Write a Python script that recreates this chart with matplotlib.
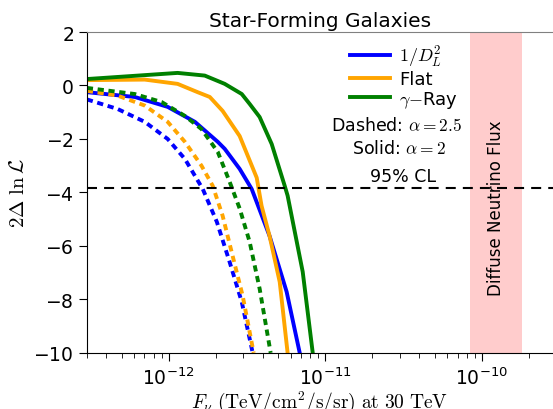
import numpy as np
import matplotlib
matplotlib.use("Agg")
import matplotlib.pyplot as plt

plt.rcParams['mathtext.fontset'] = 'cm'
plt.rcParams['axes.formatter.use_mathtext'] = True
plt.rcParams['font.family'] = ['DejaVu Sans']

# solid: alpha = 2
blue_x = [3.0e-13, 6.07e-13, 9.85e-13, 1.47e-12, 2.06e-12, 2.28e-12, 2.84e-12, 3.39e-12, 4.41e-12, 5.67e-12, 6.87e-12]
blue_y = [-0.25, -0.43, -0.8, -1.36, -2.11, -2.37, -3.12, -3.87, -5.63, -7.72, -10.0]
orange_x = [3.0e-13, 7.03e-13, 1.14e-12, 1.53e-12, 1.83e-12, 2.21e-12, 2.84e-12, 3.65e-12, 3.92e-12, 4.41e-12, 5.12e-12, 5.75e-12]
orange_y = [0.2, 0.22, 0.06, -0.25, -0.43, -0.95, -1.89, -3.45, -4.5, -5.63, -7.35, -10.0]
green_x = [3.0e-13, 1.14e-12, 1.70e-12, 2.28e-12, 2.93e-12, 3.29e-12, 3.81e-12, 4.55e-12, 5.50e-12, 5.75e-12, 7.18e-12, 8.32e-12]
green_y = [0.24, 0.47, 0.37, 0.06, -0.32, -0.69, -1.18, -2.19, -3.74, -4.12, -6.97, -10.0]

# dashed: alpha = 2.5
blue_d_x = [3.0e-13, 4.72e-13, 7.03e-13, 9.85e-13, 1.27e-12, 1.65e-12, 2.03e-12, 2.45e-12, 2.93e-12, 3.44e-12]
blue_d_y = [-0.52, -0.88, -1.36, -2.0, -2.75, -3.87, -5.1, -6.6, -8.1, -10.0]
orange_d_x = [3.0e-13, 4.72e-13, 7.03e-13, 9.85e-13, 1.27e-12, 1.62e-12, 1.91e-12, 2.21e-12, 2.56e-12, 2.97e-12, 3.49e-12]
orange_d_y = [-0.2, -0.38, -0.75, -1.36, -2.11, -3.0, -3.75, -4.87, -6.37, -7.87, -10.0]
green_d_x = [3.0e-13, 6.07e-13, 9.02e-13, 1.27e-12, 1.62e-12, 2.06e-12, 2.45e-12, 2.84e-12, 3.29e-12, 3.81e-12, 4.48e-12]
green_d_y = [-0.09, -0.32, -0.62, -1.14, -1.63, -2.49, -3.6, -4.6, -5.85, -7.6, -10.0]

cl95 = -3.84
band = [8.4e-11, 1.8e-10]

fig = plt.figure(figsize=(5.53, 4.1), dpi=100)
ax = fig.add_axes([0.157, 0.137, 0.843, 0.7825])

lw = 2.8
ax.plot(blue_x, blue_y, color='blue', lw=lw, label=r'$1/D_L^2$')
ax.plot(orange_x, orange_y, color='orange', lw=lw, label='Flat')
ax.plot(green_x, green_y, color='green', lw=lw, label=r'$\gamma$$-$Ray')
for xs, ys, c in [(blue_d_x, blue_d_y, 'blue'), (orange_d_x, orange_d_y, 'orange'), (green_d_x, green_d_y, 'green')]:
    ax.plot(xs, ys, color=c, lw=lw, ls=(0, (1.6, 1.2)))

ax.axhline(cl95, color='black', lw=1.5, ls=(0, (4.8, 3.4)))
ax.text(3.13e-11, cl95 + 0.12, '95% CL', ha='center', va='bottom', fontsize=12.5)
ax.axvspan(band[0], band[1], color='red', alpha=0.2, lw=0)
ax.text(1.23e-10, -4.55, 'Diffuse Neutrino Flux', rotation=90, ha='center', va='center', fontsize=12)

ax.set_xscale('log')
ax.set_xlim(3e-13, 2.85e-10)
ax.set_ylim(-10, 2)
ax.set_yticks([-10, -8, -6, -4, -2, 0, 2])
ax.tick_params(which='major', length=6, labelsize=13.5)
ax.tick_params(which='minor', length=3.5)
ax.spines['right'].set_visible(False)
ax.spines['top'].set_color('gray')

ax.set_xlabel(r'$F_\nu\ \mathrm{(TeV/cm^2/s/sr)\ at\ 30\ TeV}$', fontsize=14, labelpad=1)
ax.set_ylabel(r'$2\Delta\ \ln\mathcal{L}$', fontsize=15)
ax.set_title('Star-Forming Galaxies', fontsize=14.5, pad=4)

leg = ax.legend(loc='upper left', bbox_to_anchor=(0.53, 1.015), frameon=False,
                fontsize=13, handlelength=2.2, handletextpad=0.5, labelspacing=0.05)
ax.text(0.665, 0.71, r'Dashed: $\alpha=2.5$', transform=ax.transAxes, ha='center', va='center', fontsize=12.5)
ax.text(0.67, 0.64, r'Solid: $\alpha=2$', transform=ax.transAxes, ha='center', va='center', fontsize=12.5)

fig.savefig('out.png', dpi=100)
